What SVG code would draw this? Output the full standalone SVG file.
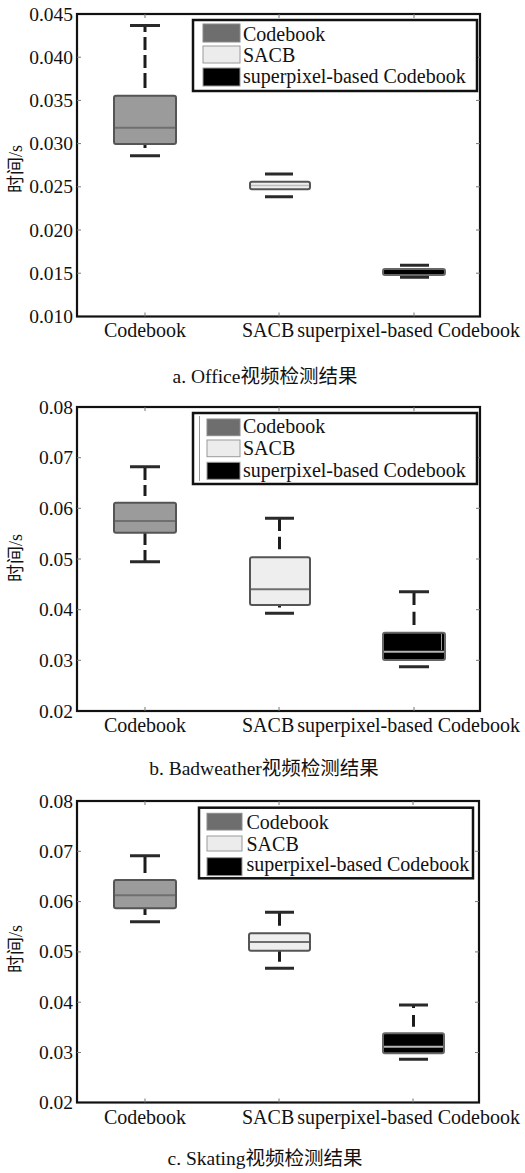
<svg xmlns="http://www.w3.org/2000/svg" width="525" height="1173" viewBox="0 0 525 1173">
  <style>
    text { font-family: 'Liberation Serif', 'Times New Roman', Times, 'DejaVu Serif', 'Noto Sans CJK SC', serif; fill: #111; }
    .yt { font-size: 19.5px; text-anchor: end; }
    .xt { font-size: 20px; }
    .lg { font-size: 20px; }
    .cap { font-size: 19.5px; text-anchor: middle; }
    .yl { font-size: 18px; text-anchor: middle; }
    .frame { fill: none; stroke: #111; stroke-width: 2.2; }
    .tick { stroke: #777; stroke-width: 1; }
    .lgframe { fill: #fff; stroke: #111; stroke-width: 2.5; }
    .box { stroke: #555; stroke-width: 2; }
    .cb { fill: #9b9b9b; }
    .sa { fill: #eeeeee; }
    .sp { fill: #000; stroke: #666; }
    .med { stroke: #6f6f6f; stroke-width: 2; }
    .medlt { stroke: #b5b5b5; stroke-width: 2; }
    .wh { fill: none; stroke: #1c1c1c; stroke-width: 3; }
    .capl { stroke: #2a2a2a; stroke-width: 3; }
    .pcb { fill: #6e6e6e; stroke: #8a8a8a; stroke-width: 1; }
    .psa { fill: #ececec; stroke: #9a9a9a; stroke-width: 1; }
    .psp { fill: #000; stroke: #999; stroke-width: 1; }
  </style>

  <!-- ===== Panel a: Office ===== -->
  <g id="panel-a">
    <g id="axes-a">
      <rect class="frame" x="77" y="14" width="403" height="302.5"/>
      <path class="tick" d="M77 57.2h4M77 100.4h4M77 143.6h4M77 186.8h4M77 230h4M77 273.2h4
                            M480 57.2h-4M480 100.4h-4M480 143.6h-4M480 186.8h-4M480 230h-4M480 273.2h-4
                            M145 14v4M279 14v4M414 14v4M145 316.5v-4M279 316.5v-4M414 316.5v-4"/>
      <text class="yt" x="73" y="20.5">0.045</text>
      <text class="yt" x="73" y="63.7">0.040</text>
      <text class="yt" x="73" y="106.9">0.035</text>
      <text class="yt" x="73" y="150.1">0.030</text>
      <text class="yt" x="73" y="193.3">0.025</text>
      <text class="yt" x="73" y="236.5">0.020</text>
      <text class="yt" x="73" y="279.7">0.015</text>
      <text class="yt" x="73" y="323">0.010</text>
      <text class="xt" x="145" y="337" text-anchor="middle">Codebook</text>
      <text class="xt" x="242" y="337">SACB</text>
      <text class="xt" x="520" y="337" text-anchor="end">superpixel-based Codebook</text>
      <text class="yl" transform="translate(22 169) rotate(-90)">时间/s</text>
    </g>
    <g id="a-codebook">
      <path class="wh" d="M145 25V32M145 37V50M145 55V68M145 73V88M145 144V148"/>
      <path class="capl" d="M130 25.5H160M130 155.7H160"/>
      <rect class="box cb" x="114" y="95.7" width="62" height="48.3" rx="2"/>
      <path class="med" d="M115 127.7H175"/>
    </g>
    <g id="a-sacb">
      <path class="capl" d="M265 174H293M265 196.7H293"/>
      <rect class="box sa" x="250" y="181.7" width="60" height="7.6" rx="2"/>
      <path d="M251 185.5H309" stroke="#bdbdbd" stroke-width="1.5"/>
    </g>
    <g id="a-superpixel">
      <path class="capl" d="M400 265.3H429M400 277.3H429"/>
      <rect class="box sp" x="383" y="269" width="62" height="6" rx="2"/>
    </g>
    <g id="a-legend">
      <rect class="lgframe" x="193" y="20" width="284" height="71"/>
      <rect class="pcb" x="203" y="24" width="37" height="18"/>
      <rect class="psa" x="203" y="46" width="37" height="17"/>
      <rect class="psp" x="203" y="68" width="37" height="18"/>
      <text class="lg" x="243" y="41">Codebook</text>
      <text class="lg" x="243" y="62">SACB</text>
      <text class="lg" x="243" y="83">superpixel-based Codebook</text>
    </g>
    <text class="cap" x="265" y="383">a. Office视频检测结果</text>
  </g>

  <!-- ===== Panel b: Badweather ===== -->
  <g id="panel-b">
    <g id="axes-b">
      <rect class="frame" x="77" y="407" width="403" height="304"/>
      <path class="tick" d="M77 457.7h4M77 508.3h4M77 559h4M77 609.7h4M77 660.3h4
                            M480 457.7h-4M480 508.3h-4M480 559h-4M480 609.7h-4M480 660.3h-4
                            M145 407v4M279 407v4M414 407v4M145 711v-4M279 711v-4M414 711v-4"/>
      <text class="yt" x="73" y="413.5">0.08</text>
      <text class="yt" x="73" y="464.2">0.07</text>
      <text class="yt" x="73" y="514.8">0.06</text>
      <text class="yt" x="73" y="565.5">0.05</text>
      <text class="yt" x="73" y="616.2">0.04</text>
      <text class="yt" x="73" y="666.8">0.03</text>
      <text class="yt" x="73" y="717.5">0.02</text>
      <text class="xt" x="145" y="732" text-anchor="middle">Codebook</text>
      <text class="xt" x="242" y="732">SACB</text>
      <text class="xt" x="520" y="732" text-anchor="end">superpixel-based Codebook</text>
      <text class="yl" transform="translate(22 558) rotate(-90)">时间/s</text>
    </g>
    <g id="b-codebook">
      <path class="wh" d="M145 466.7V480M145 485V496M145 533V545M145 550V561.7"/>
      <path class="capl" d="M130 466.7H160M130 561.7H160"/>
      <rect class="box cb" x="114" y="502.7" width="62" height="30" rx="2"/>
      <path class="med" d="M115 521H175"/>
    </g>
    <g id="b-sacb">
      <path class="wh" d="M279.5 518.3V531M279.5 536.7V549.3M279.5 605V607.5"/>
      <path class="capl" d="M265 518.3H294M265 613.3H294"/>
      <rect class="box sa" x="250" y="557.3" width="60" height="47.7" rx="2"/>
      <path class="med" d="M251 589.3H309"/>
    </g>
    <g id="b-superpixel">
      <path class="wh" d="M414 591.7V605M414 611.7V625"/>
      <path class="capl" d="M399 591.7H429M399 666.7H429"/>
      <rect class="box sp" x="383" y="632.7" width="62" height="27.3" rx="2"/>
      <path class="medlt" d="M384 651.7H444"/>
      <path d="M441.5 634V650" stroke="#9a9a9a" stroke-width="1"/>
    </g>
    <g id="b-legend">
      <rect class="lgframe" x="193" y="413" width="284" height="71"/>
      <path d="M199.5 416V481" stroke="#9a9a9a" stroke-width="1"/>
      <rect class="pcb" x="207" y="419" width="33" height="16.7"/>
      <rect class="psa" x="207" y="440" width="33" height="16.7"/>
      <rect class="psp" x="207" y="462.3" width="33" height="17"/>
      <text class="lg" x="243" y="433.3">Codebook</text>
      <text class="lg" x="243" y="455">SACB</text>
      <text class="lg" x="243" y="476.7">superpixel-based Codebook</text>
    </g>
    <text class="cap" x="264" y="775">b. Badweather视频检测结果</text>
  </g>

  <!-- ===== Panel c: Skating ===== -->
  <g id="panel-c">
    <g id="axes-c">
      <rect class="frame" x="77" y="801" width="402" height="301.5"/>
      <path class="tick" d="M77 851.3h4M77 901.6h4M77 951.9h4M77 1002.2h4M77 1052.5h4
                            M479 851.3h-4M479 901.6h-4M479 951.9h-4M479 1002.2h-4M479 1052.5h-4
                            M145 801v4M279 801v4M413 801v4M145 1102.5v-4M279 1102.5v-4M413 1102.5v-4"/>
      <text class="yt" x="73" y="807.5">0.08</text>
      <text class="yt" x="73" y="857.8">0.07</text>
      <text class="yt" x="73" y="908.1">0.06</text>
      <text class="yt" x="73" y="958.4">0.05</text>
      <text class="yt" x="73" y="1008.7">0.04</text>
      <text class="yt" x="73" y="1059">0.03</text>
      <text class="yt" x="73" y="1109">0.02</text>
      <text class="xt" x="145" y="1123.5" text-anchor="middle">Codebook</text>
      <text class="xt" x="242" y="1123.5">SACB</text>
      <text class="xt" x="520" y="1123.5" text-anchor="end">superpixel-based Codebook</text>
      <text class="yl" transform="translate(22 949) rotate(-90)">时间/s</text>
    </g>
    <g id="c-codebook">
      <path class="wh" d="M145 855.7V873M145 908V915"/>
      <path class="capl" d="M130 855.7H160M130 921.7H160"/>
      <rect class="box cb" x="114" y="880" width="62" height="28.3" rx="2"/>
      <path class="med" d="M115 895.3H175"/>
    </g>
    <g id="c-sacb">
      <path class="wh" d="M279.5 912.3V925.7M279.5 951V961.7"/>
      <path class="capl" d="M265 912.3H294M265 968.3H294"/>
      <rect class="box sa" x="249" y="933.3" width="61" height="17.4" rx="2"/>
      <path class="med" d="M250 942H309"/>
    </g>
    <g id="c-superpixel">
      <path class="wh" d="M413.5 1005V1008M413.5 1015V1026.7"/>
      <path class="capl" d="M399 1005H428M399 1059.3H428"/>
      <rect class="box sp" x="383" y="1033.3" width="61" height="20" rx="2"/>
      <path class="medlt" d="M384 1046.7H443"/>
    </g>
    <g id="c-legend">
      <rect class="lgframe" x="199" y="807.7" width="274" height="70.6"/>
      <rect class="pcb" x="207" y="813.3" width="35" height="16.7"/>
      <rect class="psa" x="207" y="836" width="35" height="15"/>
      <rect class="psp" x="207" y="857.7" width="35" height="18"/>
      <text class="lg" x="246.5" y="829">Codebook</text>
      <text class="lg" x="246.5" y="850.7">SACB</text>
      <text class="lg" x="246.5" y="871">superpixel-based Codebook</text>
    </g>
    <text class="cap" x="265" y="1165">c. Skating视频检测结果</text>
  </g>
</svg>
